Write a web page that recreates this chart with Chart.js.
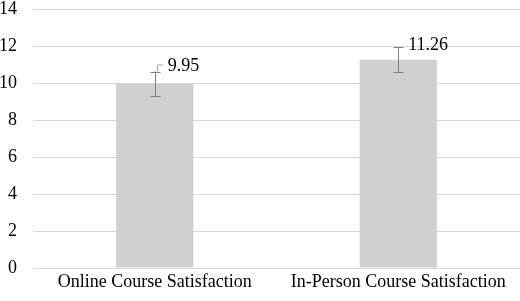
<!DOCTYPE html>
<html>
<head>
<meta charset="utf-8">
<script src="https://cdn.jsdelivr.net/npm/chart.js@4.4.1/dist/chart.umd.min.js"></script>
<style>
  html, body { margin: 0; padding: 0; background: #fff; }
  #wrap { width: 520px; height: 301px; }
  .pre { position: absolute; left: -999px; top: 0; font-family: 'Liberation Serif', 'Times New Roman', serif; }
</style>
</head>
<body>
<span class="pre">0123456789 Online</span>
<div id="wrap"><canvas id="satChart"></canvas></div>
<script>
// datos del grafico
const categories = ['Online Course Satisfaction', 'In-Person Course Satisfaction'];
const means = [9.95, 11.26];
const errors = [0.67, 0.67];
const yTicks = [0, 2, 4, 6, 8, 10, 12, 14];

const FONT = '"Liberation Serif", "Times New Roman", Times, serif';

// barras de error + etiquetas de valor
const errorBarPlugin = {
    id: 'errorBars',
    afterDatasetsDraw(chart) {
        const ctx = chart.ctx;
        const y = chart.scales.y;
        const meta = chart.getDatasetMeta(0);
        const labelOffsets = [{ dx: 13, dy: -5, hook: true }, { dx: 10, dy: -2, hook: false }];
        ctx.save();
        meta.data.forEach((bar, i) => {
            const x = Math.round(bar.x) + 0.5;
            const top = y.getPixelForValue(means[i] + errors[i]);
            const bot = y.getPixelForValue(means[i] - errors[i]);
            ctx.strokeStyle = '#7f7f7f';
            ctx.lineWidth = 1;
            ctx.beginPath();
            ctx.moveTo(x, top); ctx.lineTo(x, bot);
            ctx.moveTo(x - 5, Math.round(top) + 0.5); ctx.lineTo(x + 5, Math.round(top) + 0.5);
            ctx.moveTo(x - 5, Math.round(bot) + 0.5); ctx.lineTo(x + 5, Math.round(bot) + 0.5);
            ctx.stroke();

            const off = labelOffsets[i];
            const lx = bar.x + off.dx;
            const ly = top + off.dy;
            if (off.hook) {
                ctx.strokeStyle = '#a6a6a6';
                ctx.beginPath();
                ctx.moveTo(x + 2, top);
                ctx.lineTo(x + 2, ly - 1.5);
                ctx.lineTo(lx - 5, ly - 1.5);
                ctx.stroke();
            }
            ctx.fillStyle = '#000';
            ctx.font = '18px ' + FONT;
            ctx.textAlign = 'left';
            ctx.textBaseline = 'middle';
            ctx.fillText(means[i].toFixed(2), lx, ly);
        });
        ctx.restore();
    }
};

function drawChart() {
    const ctx = document.getElementById('satChart').getContext('2d');
    new Chart(ctx, {
        type: 'bar',
        data: {
            labels: categories,
            datasets: [{
                data: means,
                backgroundColor: '#d0d0d0',
                borderWidth: 0,
                categoryPercentage: 1,
                barPercentage: 0.317
            }]
        },
        options: {
            responsive: true,
            maintainAspectRatio: false,
            animation: false,
            layout: { padding: { top: 9, right: 0, left: 0, bottom: 0 } },
            plugins: {
                legend: { display: false },
                tooltip: { enabled: false }
            },
            scales: {
                y: {
                    min: 0,
                    max: 14,
                    afterFit(scale) {
                        scale.width = 33;
                        scale.paddingTop = 0;
                        scale.paddingBottom = 0;
                    },
                    afterBuildTicks(scale) { scale.ticks = yTicks.map(v => ({ value: v })); },
                    border: { display: false },
                    grid: { color: '#d9d9d9', drawTicks: false },
                    ticks: {
                        padding: 16,
                        color: '#000',
                        font: { family: FONT, size: 18, lineHeight: 1 }
                    }
                },
                x: {
                    afterFit(scale) { scale.height = 33; },
                    border: { display: false },
                    grid: { display: false, drawTicks: false },
                    ticks: {
                        padding: 5,
                        color: '#000',
                        maxRotation: 0,
                        font: { family: FONT, size: 18, lineHeight: 1 }
                    }
                }
            }
        },
        plugins: [errorBarPlugin]
    });
}

if (document.fonts && document.fonts.load) {
    document.fonts.load('18px "Liberation Serif"').then(drawChart, drawChart);
} else {
    drawChart();
}
</script>
</body>
</html>
